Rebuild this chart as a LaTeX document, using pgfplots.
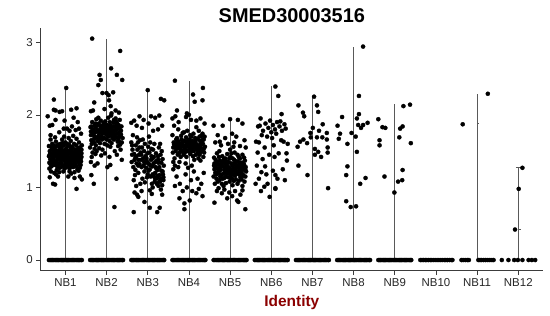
\documentclass[border=0pt]{standalone}
\usepackage{pgfplots}
\pgfplotsset{compat=1.18}
\usepackage{fontspec}
\setmainfont{Liberation Sans}
\definecolor{lab}{RGB}{139,0,0}
\definecolor{axc}{RGB}{60,60,60}
\pgfplotsset{pts/.style={only marks, mark=*, mark size=2.1pt, black, mark options={line width=0.3pt}}}
\begin{document}
\begin{tikzpicture}
\path[use as bounding box] (-40.7bp,-45.3bp) rectangle (509.3bp,270.7bp);
\begin{axis}[
  at={(0,0)}, anchor=south west,
  scale only axis, width=502.3bp, height=242.7bp,
  xmin=0.4, xmax=12.6, ymin=-0.147, ymax=3.196,
  axis x line=bottom, axis y line=left,
  axis line style={-, axc, line width=0.6pt},
  tick style={axc, line width=0.6pt},
  tick align=outside, major tick length=4.5bp,
  xtick={1,2,3,4,5,6,7,8,9,10,11,12},
  xticklabels={NB1,NB2,NB3,NB4,NB5,NB6,NB7,NB8,NB9,NB10,NB11,NB12},
  ytick={0,1,2,3},
  /pgf/number format/assume math mode=true,
  ticklabel style={font=\fontsize{11.5}{13}\selectfont, text=black!85},
  title={\textbf{SMED30003516}},
  title style={at={(axis description cs:0.5,1)}, anchor=base, yshift=-0.7bp, font=\fontsize{20}{24}\selectfont},
  xlabel={\textbf{Identity}},
  xlabel style={at={(axis description cs:0.5,0)}, anchor=base, yshift=-35.3bp, font=\fontsize{15.5}{18}\selectfont, text=lab},
  clip=false,
]
% violins (very narrow: mostly zeros)
\addplot[black!65, line width=0.6pt] coordinates {(1,0) (1,2.37)};
\addplot[black!65, line width=0.6pt] coordinates {(2,0) (2,3.04)};
\addplot[black!65, line width=0.6pt] coordinates {(3,0) (3,2.34)};
\addplot[black!65, line width=0.6pt] coordinates {(4,0) (4,2.47)};
\addplot[black!65, line width=0.6pt] coordinates {(5,0) (5,1.95)};
\addplot[black!65, line width=0.6pt] coordinates {(6,0) (6,2.40)};
\addplot[black!65, line width=0.6pt] coordinates {(7,0) (7,2.25)};
\addplot[black!65, line width=0.6pt] coordinates {(8,0) (8,2.94)};
\addplot[black!65, line width=0.6pt] coordinates {(9,0) (9,2.15)};
\addplot[black!65, line width=0.6pt] coordinates {(11,0) (11,2.29)};
\addplot[black!65, line width=0.5pt] coordinates {(11,1.88) (11.05,1.88)};
\addplot[black!65, line width=0.6pt] coordinates {(12,0) (12,1.27)};
\addplot[black!65, line width=0.5pt] coordinates {(12,0.42) (12.06,0.42)};
\addplot[black!65, line width=0.5pt] coordinates {(11.94,1.28) (12.06,1.28)};
% zero rows
\addplot[pts] coordinates {
(0.60,0) (0.63,0) (0.66,0) (0.69,0) (0.72,0) (0.75,0) (0.78,0) (0.81,0) (0.84,0) (0.87,0) (0.90,0) (0.93,0) (0.96,0) (0.99,0) (1.02,0) (1.05,0) (1.08,0) (1.11,0) (1.14,0) (1.17,0) (1.20,0) (1.23,0) (1.26,0) (1.29,0) (1.32,0) (1.35,0) (1.38,0) (1.40,0)
(1.60,0) (1.63,0) (1.66,0) (1.69,0) (1.72,0) (1.75,0) (1.78,0) (1.81,0) (1.84,0) (1.87,0) (1.90,0) (1.93,0) (1.96,0) (1.99,0) (2.02,0) (2.05,0) (2.08,0) (2.11,0) (2.14,0) (2.17,0) (2.20,0) (2.23,0) (2.26,0) (2.29,0) (2.32,0) (2.35,0) (2.38,0) (2.40,0)
(2.60,0) (2.63,0) (2.66,0) (2.69,0) (2.72,0) (2.75,0) (2.78,0) (2.81,0) (2.84,0) (2.87,0) (2.90,0) (2.93,0) (2.96,0) (2.99,0) (3.02,0) (3.05,0) (3.08,0) (3.11,0) (3.14,0) (3.17,0) (3.20,0) (3.23,0) (3.26,0) (3.29,0) (3.32,0) (3.35,0) (3.38,0) (3.40,0)
(3.60,0) (3.63,0) (3.66,0) (3.69,0) (3.72,0) (3.75,0) (3.78,0) (3.81,0) (3.84,0) (3.87,0) (3.90,0) (3.93,0) (3.96,0) (3.99,0) (4.02,0) (4.05,0) (4.08,0) (4.11,0) (4.14,0) (4.17,0) (4.20,0) (4.23,0) (4.26,0) (4.29,0) (4.32,0) (4.35,0) (4.38,0) (4.40,0)
(4.60,0) (4.63,0) (4.66,0) (4.69,0) (4.72,0) (4.75,0) (4.78,0) (4.81,0) (4.84,0) (4.87,0) (4.90,0) (4.93,0) (4.96,0) (4.99,0) (5.02,0) (5.05,0) (5.08,0) (5.11,0) (5.14,0) (5.17,0) (5.20,0) (5.23,0) (5.26,0) (5.29,0) (5.32,0) (5.35,0) (5.38,0) (5.40,0)
(5.60,0) (5.63,0) (5.66,0) (5.69,0) (5.72,0) (5.75,0) (5.78,0) (5.81,0) (5.84,0) (5.87,0) (5.90,0) (5.93,0) (5.96,0) (5.99,0) (6.02,0) (6.05,0) (6.08,0) (6.11,0) (6.14,0) (6.17,0) (6.20,0) (6.23,0) (6.26,0) (6.29,0) (6.32,0) (6.35,0) (6.38,0) (6.40,0)
(6.60,0) (6.63,0) (6.66,0) (6.69,0) (6.72,0) (6.75,0) (6.78,0) (6.81,0) (6.84,0) (6.87,0) (6.90,0) (6.93,0) (6.96,0) (6.99,0) (7.02,0) (7.05,0) (7.08,0) (7.11,0) (7.14,0) (7.17,0) (7.20,0) (7.23,0) (7.26,0) (7.29,0) (7.32,0) (7.35,0) (7.38,0) (7.40,0)
(7.60,0) (7.63,0) (7.66,0) (7.69,0) (7.72,0) (7.75,0) (7.78,0) (7.81,0) (7.84,0) (7.87,0) (7.90,0) (7.93,0) (7.96,0) (7.99,0) (8.02,0) (8.05,0) (8.08,0) (8.11,0) (8.14,0) (8.17,0) (8.20,0) (8.23,0) (8.26,0) (8.29,0) (8.32,0) (8.35,0) (8.38,0) (8.40,0)
(8.60,0) (8.63,0) (8.66,0) (8.69,0) (8.72,0) (8.75,0) (8.78,0) (8.81,0) (8.84,0) (8.87,0) (8.90,0) (8.93,0) (8.96,0) (8.99,0) (9.02,0) (9.05,0) (9.08,0) (9.11,0) (9.14,0) (9.17,0) (9.20,0) (9.23,0) (9.26,0) (9.29,0) (9.32,0) (9.35,0) (9.38,0) (9.40,0)
(9.62,0) (9.66,0) (9.70,0) (9.74,0) (9.78,0) (9.82,0) (9.86,0) (9.90,0) (9.95,0) (10.00,0) (10.05,0) (10.10,0) (10.15,0) (10.20,0) (10.24,0) (10.28,0) (10.33,0) (10.37,0) (10.40,0)
(10.62,0) (10.66,0) (10.71,0) (10.76,0) (10.80,0) (11.03,0) (11.07,0) (11.11,0) (11.16,0) (11.21,0) (11.26,0) (11.31,0) (11.36,0) (11.40,0)
(11.60,0) (11.76,0) (11.90,0) (11.99,0) (12.10,0) (12.25,0) (12.33,0) (12.41,0)
};
% NB1
\addplot[pts] coordinates {
(0.62,1.45) (0.71,1.52) (0.85,1.38) (0.93,1.61) (1.04,1.42) (1.12,1.55) (1.21,1.33) (1.30,1.48) (1.37,1.40) (0.66,1.29)
(0.77,1.63) (0.89,1.47) (0.98,1.31) (1.08,1.68) (1.17,1.44) (1.26,1.58) (1.35,1.27) (0.60,1.57) (0.74,1.36) (0.82,1.50)
(0.95,1.22) (1.01,1.53) (1.14,1.37) (1.23,1.46) (1.33,1.62) (0.69,1.41) (0.79,1.24) (0.91,1.56) (1.06,1.35) (1.19,1.71)
(1.28,1.39) (1.39,1.52) (0.64,1.66) (0.73,1.20) (0.87,1.43) (0.97,1.70) (1.10,1.26) (1.16,1.49) (1.25,1.30) (1.36,1.45)
(0.61,1.34) (0.70,1.48) (0.83,1.59) (0.92,1.39) (1.03,1.46) (1.13,1.64) (1.22,1.21) (1.31,1.54) (1.38,1.36) (0.67,1.53)
(0.76,1.44) (0.86,1.27) (0.96,1.51) (1.07,1.40) (1.18,1.32) (1.27,1.67) (1.34,1.43) (0.63,1.39) (0.78,1.57) (0.88,1.33)
(0.99,1.44) (1.09,1.59) (1.20,1.41) (1.29,1.25) (1.40,1.58) (0.65,1.22) (0.75,1.49) (0.84,1.41) (0.94,1.30) (1.05,1.57)
(1.15,1.29) (1.24,1.52) (1.32,1.35) (0.68,1.60) (0.81,1.46) (0.90,1.52) (1.00,1.37) (1.11,1.47) (1.21,1.60) (1.37,1.31)
(0.72,1.31) (0.80,1.39) (0.95,1.45) (1.02,1.28) (1.12,1.41) (1.18,1.54) (1.28,1.44) (1.35,1.55) (0.62,1.50) (0.86,1.55)
(0.77,1.18) (0.92,1.66) (1.06,1.50) (1.14,1.19) (1.25,1.38) (1.31,1.47) (1.39,1.42) (0.69,1.47) (0.83,1.32) (1.00,1.62)
(0.60,1.43) (0.74,1.55) (0.89,1.37) (1.03,1.39) (1.16,1.43) (1.23,1.33) (1.33,1.50) (0.66,1.37) (0.97,1.48) (1.09,1.33)
(0.71,1.40) (0.85,1.50) (0.93,1.42) (1.04,1.51) (1.13,1.36) (1.27,1.50) (1.36,1.38) (0.79,1.45) (0.88,1.60) (1.20,1.47)
(0.63,1.47) (0.70,1.35) (0.78,1.51) (0.84,1.45) (0.90,1.34) (0.96,1.40) (1.01,1.45) (1.07,1.30) (1.12,1.50) (1.18,1.38)
(1.24,1.42) (1.30,1.36) (1.36,1.49) (0.66,1.56) (0.73,1.43) (0.80,1.29) (0.87,1.53) (0.93,1.48) (0.99,1.36) (1.05,1.44)
(1.10,1.39) (1.16,1.56) (1.22,1.49) (1.29,1.41) (1.34,1.32) (0.61,1.26) (0.68,1.44) (0.75,1.32) (0.82,1.42) (0.89,1.28)
(0.95,1.58) (1.02,1.33) (1.08,1.46) (1.14,1.32) (1.21,1.37) (1.27,1.29) (1.33,1.40) (1.39,1.47) (0.71,1.58) (0.91,1.45)
(1.15,1.52) (1.26,1.46) (0.79,1.35) (1.04,1.60) (0.85,1.21) (1.10,1.22) (1.32,1.23) (0.64,1.32) (0.98,1.26) (1.19,1.28)
(0.72,2.21) (1.02,2.37) (0.72,2.07) (0.76,2.06) (0.86,2.04) (0.92,2.05) (1.14,2.07) (1.27,2.09) (0.57,1.98) (0.62,1.85)
(0.76,1.93) (0.96,1.81) (1.04,1.81) (1.20,1.96) (1.25,1.79) (1.33,1.81) (1.38,1.74) (0.64,1.72) (0.75,1.69) (0.70,1.05)
(0.75,1.04) (1.27,0.98) (1.40,1.11) (1.07,1.15) (1.22,1.13) (0.85,1.76) (1.10,1.78) (0.68,1.86) (1.30,1.90) (0.98,1.92)
(1.16,1.84) (0.82,1.15) (0.62,1.14) (1.35,1.15)
};
% NB2
\addplot[pts] coordinates {
(1.62,1.72) (1.71,1.85) (1.80,1.64) (1.88,1.78) (1.97,1.91) (2.05,1.70) (2.13,1.83) (2.22,1.95) (2.30,1.76) (2.37,1.62)
(1.65,1.90) (1.74,1.58) (1.83,1.75) (1.92,1.68) (2.01,1.86) (2.09,1.79) (2.18,1.66) (2.26,1.88) (2.34,1.71) (1.60,1.55)
(1.68,1.80) (1.77,1.69) (1.86,1.92) (1.95,1.60) (2.03,1.77) (2.11,1.99) (2.20,1.73) (2.28,1.57) (2.36,1.84) (1.63,1.65)
(1.72,1.76) (1.81,1.88) (1.90,1.52) (1.99,1.73) (2.07,1.64) (2.16,1.89) (2.24,1.80) (2.32,1.93) (2.39,1.68) (1.66,1.48)
(1.75,1.94) (1.84,1.61) (1.93,1.82) (2.02,1.58) (2.10,1.72) (2.19,1.84) (2.27,1.63) (2.35,1.78) (1.61,1.83) (1.70,1.67)
(1.79,1.79) (1.87,1.70) (1.96,1.85) (2.04,1.96) (2.12,1.61) (2.21,1.78) (2.29,1.86) (1.64,1.60) (1.73,1.88) (1.82,1.54)
(1.91,1.74) (2.00,1.66) (2.08,1.90) (2.17,1.75) (2.25,1.69) (2.33,1.59) (1.67,1.74) (1.76,1.50) (1.85,1.84) (1.94,1.77)
(2.06,1.82) (2.14,1.68) (2.23,1.91) (2.31,1.81) (1.69,1.62) (1.78,1.86) (1.89,1.66) (1.98,1.80) (2.09,1.56) (2.18,1.93)
(2.26,1.74) (1.62,1.77) (1.80,1.96) (1.93,1.89) (2.02,1.79) (2.15,1.77) (2.28,1.67) (1.71,1.53) (1.84,1.68) (2.12,2.02)
(1.73,1.46) (1.96,1.47) (2.20,1.50) (2.34,1.52) (1.64,1.42) (1.87,1.44) (2.07,1.42) (2.25,1.45)
(1.66,1.78) (1.74,1.82) (1.81,1.72) (1.89,1.85) (1.96,1.75) (2.04,1.84) (2.11,1.76) (2.19,1.70) (2.27,1.82) (2.35,1.73)
(1.70,1.71) (1.78,1.64) (1.87,1.76) (1.95,1.68) (2.03,1.72) (2.10,1.85) (2.18,1.79) (2.25,1.86) (2.32,1.70) (1.63,1.84)
(1.76,1.77) (1.92,1.79) (2.06,1.76) (2.22,1.84) (1.85,1.80) (2.14,1.73) (2.00,1.83) (2.30,1.64)
(1.65,3.05) (2.33,2.88) (2.11,2.64) (2.25,2.55) (1.83,2.55) (1.86,2.48) (2.38,2.48) (1.80,2.41) (1.90,2.30) (2.00,2.30)
(2.16,2.31) (1.70,2.17) (2.06,2.20) (2.10,2.12) (1.62,2.05) (1.67,2.06) (2.22,2.06) (2.30,2.03) (1.95,2.08) (2.05,2.27)
(1.69,1.05) (1.63,1.17) (2.24,1.12) (2.19,0.73) (2.09,1.31) (2.02,1.28) (1.71,1.30) (1.62,1.35) (2.37,1.38) (1.78,1.33)
};
% NB3
\addplot[pts] coordinates {
(2.62,1.45) (2.71,1.58) (2.80,1.32) (2.88,1.66) (2.97,1.40) (3.05,1.25) (3.13,1.52) (3.22,1.37) (3.30,1.60) (3.37,1.18)
(2.65,1.28) (2.74,1.69) (2.83,1.48) (2.92,1.22) (3.01,1.56) (3.09,1.43) (3.18,1.12) (3.26,1.34) (3.34,1.50) (2.60,1.62)
(2.68,1.38) (2.77,1.20) (2.86,1.55) (2.95,1.34) (3.03,1.70) (3.11,1.29) (3.20,1.47) (3.28,1.08) (3.36,1.39) (2.63,1.52)
(2.72,1.43) (2.81,1.65) (2.90,1.30) (2.99,1.47) (3.07,1.15) (3.16,1.60) (3.24,1.24) (3.32,1.12) (3.39,1.30) (2.66,1.10)
(2.75,1.52) (2.84,1.38) (2.93,1.60) (3.02,1.33) (3.10,1.05) (3.19,1.35) (3.27,1.55) (3.35,1.03) (2.61,1.35) (2.70,1.24)
(2.79,1.45) (2.87,1.12) (2.96,1.27) (3.04,1.48) (3.12,1.18) (3.21,1.26) (3.29,1.17) (3.38,1.10) (2.64,1.72) (2.73,1.33)
(2.82,1.05) (2.91,1.50) (3.00,1.18) (3.08,1.38) (3.17,1.08) (3.25,1.43) (3.33,1.23) (2.67,1.46) (2.76,1.62) (2.85,1.28)
(2.94,1.43) (3.06,1.62) (3.14,1.33) (3.23,1.13) (3.31,1.45) (2.69,1.17) (2.78,1.38) (2.89,1.40) (2.98,1.14) (3.09,1.53)
(3.18,1.20) (3.26,1.02) (3.36,1.22) (2.62,1.58) (2.80,1.55) (2.93,1.07) (3.02,1.23) (3.15,1.42) (3.28,1.28) (2.72,1.02)
(3.12,1.00) (3.22,1.05) (3.32,0.97) (3.38,1.14) (2.85,0.95) (3.05,0.96) (2.68,0.93)
(2.70,1.41) (2.84,1.45) (2.98,1.36) (3.12,1.40) (3.26,1.38) (2.77,1.30) (2.91,1.35) (3.05,1.31) (3.19,1.28) (3.33,1.34)
(3.15,1.15) (3.30,1.08) (3.24,1.16)
(3.00,2.34) (3.32,2.22) (3.40,2.20) (2.60,1.89) (2.67,1.92) (2.73,1.85) (2.80,1.98) (2.90,1.93) (3.02,1.88) (3.08,1.98)
(3.18,1.96) (3.28,1.99) (3.35,1.85) (2.86,1.82) (3.13,1.78) (3.25,1.80) (2.66,0.66) (3.23,0.66) (3.29,0.72) (2.92,0.80)
(3.05,0.72) (2.74,0.90) (2.77,0.87) (3.10,0.91) (3.35,0.90)
};
% NB4
\addplot[pts] coordinates {
(3.62,1.55) (3.71,1.68) (3.80,1.42) (3.88,1.76) (3.97,1.50) (4.05,1.62) (4.13,1.38) (4.22,1.57) (4.30,1.71) (4.37,1.48)
(3.65,1.40) (3.74,1.80) (3.83,1.58) (3.92,1.33) (4.01,1.66) (4.09,1.53) (4.18,1.83) (4.26,1.45) (4.34,1.60) (3.60,1.72)
(3.68,1.50) (3.77,1.35) (3.86,1.64) (3.95,1.56) (4.03,1.46) (4.11,1.74) (4.20,1.52) (4.28,1.37) (4.36,1.66) (3.63,1.62)
(3.72,1.54) (3.81,1.71) (3.90,1.48) (3.99,1.60) (4.07,1.30) (4.16,1.63) (4.24,1.78) (4.32,1.50) (4.39,1.56) (3.66,1.30)
(3.75,1.63) (3.84,1.50) (3.93,1.69) (4.02,1.55) (4.10,1.43) (4.19,1.59) (4.27,1.64) (4.35,1.42) (3.61,1.48) (3.70,1.60)
(3.79,1.55) (3.87,1.45) (3.96,1.78) (4.04,1.58) (4.12,1.50) (4.21,1.67) (4.29,1.55) (3.64,1.85) (3.73,1.45) (3.82,1.66)
(3.91,1.58) (4.00,1.50) (4.08,1.64) (4.17,1.45) (4.25,1.58) (4.33,1.74) (3.67,1.57) (3.76,1.47) (3.85,1.75) (3.94,1.42)
(4.06,1.70) (4.14,1.56) (4.23,1.40) (4.31,1.62) (3.69,1.66) (3.78,1.60) (3.89,1.53) (3.98,1.65) (4.09,1.61) (4.18,1.53)
(4.27,1.48) (4.38,1.70) (3.62,1.35) (3.80,1.52) (3.93,1.51) (4.03,1.72) (4.15,1.68) (4.26,1.70)
(3.64,1.59) (3.72,1.63) (3.79,1.49) (3.86,1.57) (3.94,1.62) (4.01,1.52) (4.08,1.57) (4.15,1.61) (4.22,1.48) (4.29,1.59)
(4.36,1.53) (3.69,1.54) (3.83,1.61) (3.97,1.58) (4.11,1.55) (4.25,1.52) (4.34,1.66) (3.76,1.58) (3.90,1.64) (4.05,1.49)
(3.62,1.25) (3.70,1.15) (3.78,1.05) (3.89,0.78) (3.77,0.85) (3.89,0.70) (3.85,0.95) (3.95,1.00) (4.05,1.10) (4.12,1.22)
(4.18,0.92) (4.24,0.98) (4.30,1.05) (4.36,1.20) (3.66,1.02) (3.92,1.18) (4.08,0.95) (4.33,0.88) (3.74,1.28) (4.21,1.12)
(3.98,1.27) (4.02,0.82)
(3.66,2.47) (4.34,2.37) (4.10,2.28) (4.14,2.18) (4.33,2.20) (3.71,2.06) (3.67,1.98) (3.95,2.02) (4.00,2.00) (3.93,1.97)
(4.18,1.92) (4.28,1.95) (4.38,1.88) (3.75,1.90) (4.05,1.93) (3.60,1.95)
};
% NB5
\addplot[pts] coordinates {
(4.62,1.25) (4.71,1.32) (4.80,1.18) (4.88,1.40) (4.97,1.28) (5.05,1.12) (5.13,1.35) (5.22,1.22) (5.30,1.45) (5.37,1.15)
(4.65,1.38) (4.74,1.10) (4.83,1.29) (4.92,1.20) (5.01,1.42) (5.09,1.26) (5.18,1.05) (5.26,1.33) (5.34,1.24) (4.60,1.15)
(4.68,1.47) (4.77,1.24) (4.86,1.13) (4.95,1.35) (5.03,1.21) (5.11,1.48) (5.20,1.30) (5.28,1.11) (5.36,1.37) (4.63,1.05)
(4.72,1.20) (4.81,1.43) (4.90,1.27) (4.99,1.08) (5.07,1.31) (5.16,1.19) (5.24,1.40) (5.32,1.28) (5.39,1.22) (4.66,1.30)
(4.75,1.37) (4.84,1.02) (4.93,1.46) (5.02,1.16) (5.10,1.38) (5.19,1.27) (5.27,1.20) (5.35,1.08) (4.61,1.41) (4.70,1.26)
(4.79,1.33) (4.87,1.21) (4.96,1.14) (5.04,1.33) (5.12,1.24) (5.21,1.42) (5.29,1.34) (4.64,1.20) (4.73,1.42) (4.82,1.12)
(4.91,1.36) (5.00,1.25) (5.08,1.18) (5.17,1.36) (5.25,1.14) (5.33,1.32) (4.67,1.12) (4.76,1.29) (4.85,1.39) (4.94,1.23)
(5.06,1.40) (5.14,1.11) (5.23,1.26) (5.31,1.18) (4.69,1.35) (4.78,1.17) (4.89,1.32) (4.98,1.40) (5.09,1.09) (5.18,1.45)
(5.27,1.29) (5.38,1.28) (4.62,1.33) (4.80,1.05) (4.93,1.29) (5.03,1.47) (5.15,1.30) (5.26,1.23) (4.74,1.50) (5.00,1.52)
(5.12,1.16) (4.86,1.25) (5.21,1.09) (4.97,1.19) (5.34,1.41) (4.70,1.08) (5.06,1.03) (4.90,1.06) (5.30,1.02) (4.82,1.36)
(4.64,1.27) (4.71,1.22) (4.78,1.30) (4.85,1.19) (4.92,1.30) (4.99,1.21) (5.06,1.30) (5.13,1.22) (5.20,1.35) (5.27,1.25)
(5.34,1.31) (4.67,1.18) (4.75,1.26) (4.83,1.34) (4.90,1.15) (4.97,1.34) (5.04,1.25) (5.11,1.33) (5.18,1.21) (5.25,1.34)
(5.32,1.16) (4.61,1.30) (4.76,1.15) (4.95,1.26) (5.08,1.23) (5.22,1.18) (5.37,1.24) (4.88,1.24) (5.15,1.27) (5.01,1.13)
(5.00,1.94) (4.60,1.85) (4.82,1.85) (5.19,1.93) (5.30,1.88) (4.70,1.72) (4.88,1.68) (5.05,1.74) (5.15,1.70) (5.35,1.65)
(4.64,1.62) (4.78,1.58) (4.95,1.60) (5.10,1.62) (5.24,1.57) (5.38,1.55) (4.75,1.63) (5.08,1.56)
(4.62,0.79) (5.37,0.70) (4.68,0.95) (4.80,0.92) (4.93,0.85) (5.05,0.88) (5.17,0.82) (5.25,0.90) (4.86,0.97) (5.12,0.95)
(5.30,0.96) (4.72,0.99) (5.20,0.80) (4.98,0.93)
};
% NB6
\addplot[pts] coordinates {
(6.10,2.39) (6.17,2.26) (6.25,2.01) (5.74,1.95) (5.68,1.84) (5.63,1.63) (5.96,0.87) (5.75,0.95) (5.83,1.01) (6.10,0.98)
(5.91,1.05) (6.04,1.23) (5.79,1.39) (5.85,1.29) (6.18,1.47) (6.37,1.47) (6.38,1.37) (6.06,1.58)
(5.72,1.85) (5.80,1.78) (5.86,1.88) (5.93,1.82) (6.00,1.76) (6.04,1.86) (6.09,1.80) (6.14,1.90) (6.20,1.84) (6.26,1.78)
(6.32,1.87) (5.77,1.72) (5.97,1.92) (6.12,1.74) (6.22,1.91) (6.35,1.81) (5.90,1.70) (6.02,1.68)
(5.65,1.30) (5.70,1.12) (5.88,1.18) (6.28,1.25) (6.33,1.10) (6.15,1.12) (5.62,1.05) (6.40,1.60) (6.30,1.63) (5.67,1.48)
(5.95,1.45) (6.24,1.65) (5.84,1.55) (5.70,1.62) (6.08,1.42) (5.76,1.21) (6.10,1.17) (6.10,0.99)
};
% NB7
\addplot[pts] coordinates {
(6.66,2.13) (6.77,2.03) (6.80,1.98) (7.04,2.25) (7.11,2.13) (7.14,2.04) (7.25,1.87) (7.01,1.82) (6.95,1.75) (7.16,1.78)
(7.35,1.75) (6.70,1.63) (6.78,1.66) (6.87,1.61) (6.64,1.56) (6.96,1.69) (7.11,1.69) (7.24,1.69) (7.35,1.66) (7.06,1.53)
(7.37,1.55) (7.14,1.49) (7.06,1.45) (7.21,1.42) (7.37,1.48) (6.66,1.30) (6.88,1.17) (7.38,0.99)
};
% NB8
\addplot[pts] coordinates {
(8.23,2.94) (8.13,2.26) (8.13,2.01) (7.61,1.85) (7.72,1.97) (8.08,1.95) (8.11,1.86) (8.23,1.86) (8.18,1.82) (8.34,1.89)
(7.67,1.74) (7.64,1.67) (7.95,1.75) (8.05,1.70) (7.85,1.60) (8.08,1.49) (7.85,1.29) (7.82,1.17) (8.16,1.05) (8.29,1.13)
(7.82,0.81) (7.93,0.73) (8.06,0.74)
};
% NB9
\addplot[pts] coordinates {
(8.60,1.94) (8.70,1.83) (8.77,1.82) (9.21,2.12) (9.37,2.14) (9.13,1.81) (9.19,1.84) (9.11,1.69) (8.63,1.65) (8.63,1.58)
(9.39,1.61) (8.75,1.15) (9.19,1.24) (9.08,1.08) (9.18,1.10) (8.99,0.93)
};
% NB11, NB12
\addplot[pts] coordinates {
(10.65,1.87) (11.26,2.29) (12.10,1.27) (12.01,0.98) (11.92,0.42)
};
\end{axis}
\end{tikzpicture}
\end{document}
